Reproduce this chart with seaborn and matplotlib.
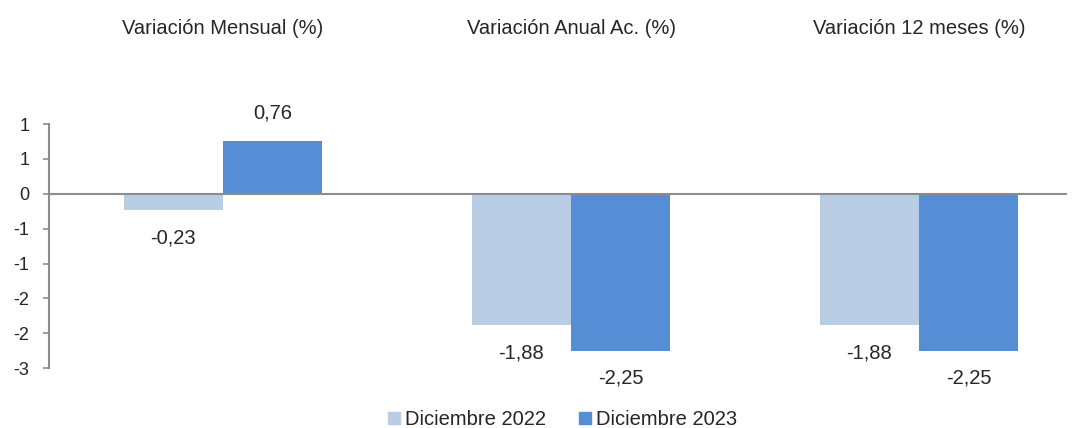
import matplotlib
matplotlib.use("Agg")
import matplotlib.pyplot as plt
import matplotlib.patches as mpatches
import seaborn as sns
import pandas as pd

categories = ["Variación Mensual (%)", "Variación Anual Ac. (%)", "Variación 12 meses (%)"]
series = ["Diciembre 2022", "Diciembre 2023"]
dic_2022 = [-0.23, -1.88, -1.88]
dic_2023 = [0.76, -2.25, -2.25]
colors = ["#B9CDE5", "#558ED5"]

df = pd.DataFrame({
    "cat": categories * 2,
    "serie": [series[0]] * 3 + [series[1]] * 3,
    "valor": dic_2022 + dic_2023,
})

sns.set_style("white")
plt.rcParams["font.family"] = ["Liberation Sans", "DejaVu Sans"]

fig = plt.figure(figsize=(10.82, 4.28), dpi=100)
ax = fig.add_axes([0.0453, 0.140, 0.9408, 0.570])

sns.barplot(data=df, x="cat", y="valor", hue="serie", palette=colors,
            width=0.57, saturation=1, legend=False, linewidth=0, ax=ax)

ax.set_xlim(-0.5, 2.425)
ax.set_ylim(-2.5, 1.0)
yt = [1.0, 0.5, 0.0, -0.5, -1.0, -1.5, -2.0, -2.5]
ax.set_yticks(yt)
# Excel-style rounding (half away from zero)
ax.set_yticklabels([str(int(v + 0.5) if v >= 0 else -int(-v + 0.5)) for v in yt], fontsize=13)
ax.tick_params(axis="y", direction="out", length=4, width=1.2, color="#8C8C8C", pad=10, left=True)

ax.xaxis.tick_top()
ax.tick_params(axis="x", length=0, labelsize=14.5, pad=62)
ax.set_xlabel("")
ax.set_ylabel("")

for s in ["top", "right", "bottom"]:
    ax.spines[s].set_visible(False)
ax.spines["left"].set_color("#8C8C8C")
ax.spines["left"].set_linewidth(1.5)
ax.axhline(0, color="#8C8C8C", lw=1.5, zorder=1)

for container in ax.containers:
    for bar in container:
        h = bar.get_height()
        x = bar.get_x() + bar.get_width() / 2
        txt = f"{h:.2f}".replace(".", ",")
        off = 20 if h > 0 else -20
        ax.annotate(txt, (x, h), xytext=(0, off), textcoords="offset points",
                    ha="center", va="center", fontsize=14.5)

handles = [mpatches.Patch(color=c, label=s) for c, s in zip(colors, series)]
fig.legend(handles=handles, loc="lower center", bbox_to_anchor=(0.52, -0.045), ncol=2,
           frameon=False, fontsize=14.5, handlelength=0.6, handleheight=0.6,
           handletextpad=0.25, columnspacing=1.6)

fig.savefig("out.png", dpi=100)
